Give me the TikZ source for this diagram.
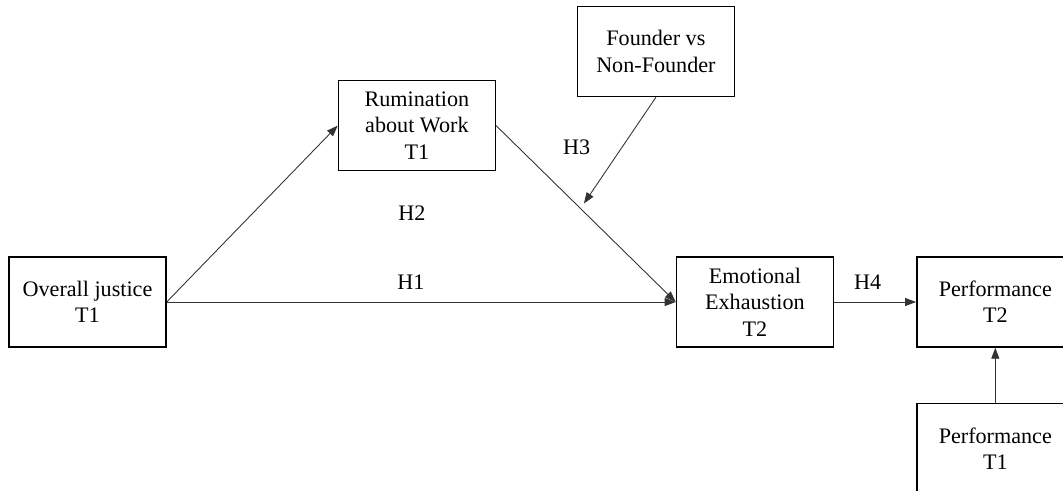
\documentclass[tikz,border=0pt]{standalone}
\usepackage{fontspec}
\setmainfont{Liberation Serif}
\usetikzlibrary{positioning,arrows.meta,calc}
\begin{document}
\begin{tikzpicture}[
    node distance=1.8cm,
    font=\fontsize{12.6}{15}\selectfont,
    block/.style={
        rectangle,
        draw,
        line width=0.8pt,
        align=center,
        minimum width=3.14cm,
        minimum height=1.8cm
    },
    line/.style={
        draw,
        black!80,
        line width=0.5pt,
        -{Triangle[length=2.2mm,width=1.6mm]}
    },
    hyp/.style={
        text=black,
        inner sep=2pt
    }]

    \useasboundingbox (0,0) rectangle (21.26,-9.8);

    \node (overall_justice) [block] at (1.75,-6.04) {Overall justice\\T1};
    \node (rumination) [block, above right=1.7cm and 3.42cm of overall_justice] {Rumination\\about Work\\T1};
    \node (emotional_exhaustion) [block, right=10.18cm of overall_justice] {Emotional\\Exhaustion\\T2};
    \node (founder) [block, above=3.18cm of emotional_exhaustion, xshift=-1.98cm] {Founder vs\\Non-Founder};
    \node (performance_t2) [block, right=1.64cm of emotional_exhaustion] {Performance\\T2};
    \node (performance_t1) [block, below=1.1cm of performance_t2] {Performance\\T1};

    \node (h2) [hyp, below=0.61cm of rumination, xshift=-0.1cm] {H2};
    \node (h3) [hyp, below=0.77cm of founder.south west] {H3};

    \coordinate (moderation) at ($(rumination.east)!0.47!(emotional_exhaustion.west)$);

    \draw [line] (overall_justice.east) -- (rumination.west);
    \draw [line] (rumination.east) -- (emotional_exhaustion.west);
    \draw [line] (overall_justice.east) -- node (h1) [hyp, pos=0.48, above=0.18cm] {H1} (emotional_exhaustion.west);
    \draw [line, shorten >=0.12cm] (founder.south) -- (moderation);
    \draw [line] (emotional_exhaustion) -- node (h4) [hyp, pos=0.41, above=0.18cm] {H4} (performance_t2);
    \draw [line] (performance_t1) -- (performance_t2);

\end{tikzpicture}
\end{document}
